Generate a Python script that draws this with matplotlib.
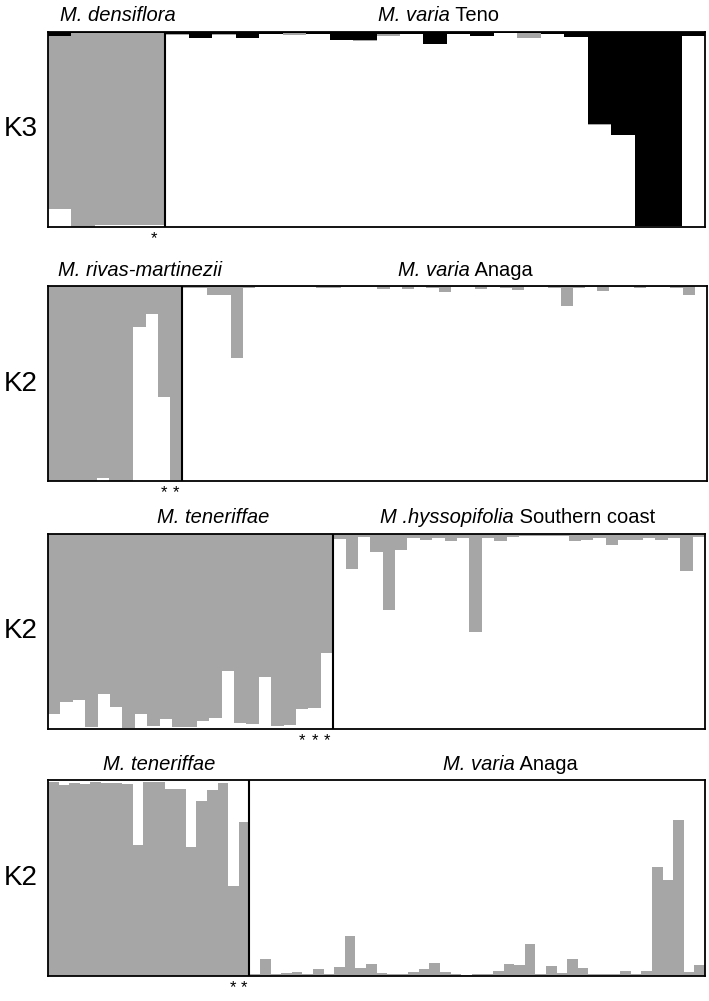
import numpy as np
import matplotlib
matplotlib.use("Agg")
import matplotlib.pyplot as plt
from matplotlib import transforms

plt.rcParams['font.family'] = ['Liberation Sans', 'DejaVu Sans']

GREY = '#a6a6a6'

# ---- panel 1 : K3, M. densiflora (5) + M. varia Teno (23)
# stack from bottom: white, grey, black
p1_n = [5, 23]
p1_grey = [0.89, 0.995, 0.985, 0.985, 0.987,
           0.005, 0, 0.005, 0, 0, 0.01, 0, 0, 0.005, 0.01, 0, 0, 0, 0, 0,
           0.025, 0, 0, 0.005, 0, 0, 0, 0]
p1_black = [0.02, 0.005, 0.005, 0.005, 0.005,
            0.01, 0.03, 0.01, 0.03, 0.01, 0.005, 0.01, 0.04, 0.04, 0.01, 0.01, 0.06,
            0.01, 0.02, 0.005, 0.005, 0.01, 0.025, 0.47, 0.53, 0.995, 0.995, 0.02]

# ---- panel 2 : K2, M. rivas-martinezii (11) + M. varia Anaga (43); grey share (top)
p2_n = [11, 43]
p2_grey = [1, 1, 1, 1, 0.983, 1, 1, 0.21, 0.145, 0.57, 0.995,
           0.01, 0.01, 0.046, 0.046, 0.37, 0.01, 0.005, 0.005, 0.005, 0.005, 0.005,
           0.01, 0.01, 0.005, 0.005, 0.005, 0.015, 0.005, 0.015, 0.005, 0.01, 0.03,
           0.005, 0.005, 0.015, 0.005, 0.01, 0.02, 0.005, 0.005, 0.01, 0.1, 0.01,
           0.005, 0.025, 0.005, 0.005, 0.01, 0.005, 0.005, 0.01, 0.045, 0.0]

# ---- panel 3 : K2, M. teneriffae (23) + M. hyssopifolia Southern coast (30); grey share (top)
p3_n = [23, 30]
p3_white_g1 = [0.075, 0.139, 0.149, 0.012, 0.178, 0.113, 0.007, 0.075, 0.014, 0.051,
               0.009, 0.012, 0.039, 0.057, 0.30, 0.031, 0.027, 0.269, 0.017, 0.021,
               0.101, 0.106, 0.39]
p3_grey_g2 = [0.024, 0.18, 0.017, 0.09, 0.39, 0.08, 0.02, 0.03, 0.02, 0.035, 0.02, 0.50,
              0.02, 0.038, 0.015, 0.012, 0.01, 0.008, 0.008, 0.035, 0.03, 0.02, 0.058,
              0.03, 0.03, 0.02, 0.033, 0.02, 0.19, 0.015]
p3_grey = [1 - w for w in p3_white_g1] + p3_grey_g2

# ---- panel 4 : K2, M. teneriffae (19) + M. varia Anaga (43); grey share (bottom)
p4_n = [19, 43]
p4_grey = [0.991, 0.976, 0.986, 0.98, 0.988, 0.983, 0.983, 0.98, 0.67, 0.988, 0.988,
           0.954, 0.954, 0.66, 0.894, 0.949, 0.983, 0.458, 0.785,
           0.012, 0.087, 0.009, 0.017, 0.022, 0.009, 0.034, 0.009, 0.044, 0.206, 0.041,
           0.06, 0.015, 0.009, 0.012, 0.022, 0.036, 0.066, 0.022, 0.012, 0.007, 0.009,
           0.009, 0.024, 0.063, 0.055, 0.165, 0.012, 0.051, 0.015, 0.089, 0.039, 0.012,
           0.012, 0.012, 0.027, 0.012, 0.024, 0.554, 0.49, 0.796, 0.022, 0.058]

# labels: (italic part, plain part) for each group title
k_labels = ['K3', 'K2', 'K2', 'K2']
titles = [(('M. densiflora', ''), ('M. varia', ' Teno')),
          (('M. rivas-martinezii', ''), ('M. varia', ' Anaga')),
          (('M. teneriffae', ''), ('M .hyssopifolia', ' Southern coast')),
          (('M. teneriffae', ''), ('M. varia', ' Anaga'))]
stars = [[4], [9, 10], [20, 21, 22], [17, 18]]

W, H = 709, 1001
fig = plt.figure(figsize=(W / 100, H / 100), dpi=100)

# axes boxes in pixels: left, top, right, bottom
boxes = [(48, 32, 705, 227), (48, 286, 707, 481), (48, 534, 705, 729), (48, 780, 705, 976)]
# left edge of each title, baseline y (pixels from top)
title_pos = [((60, 21), (378, 21)), ((58, 276), (398, 276)),
             ((157, 523), (380, 523)), ((103, 770), (443, 770))]
TSIZE = 14.5

axes = []
for (l, t, r, b) in boxes:
    ax = fig.add_axes([l / W, 1 - b / H, (r - l) / W, (b - t) / H])
    axes.append(ax)

def finish(ax, n_groups, k):
    n = sum(n_groups)
    ax.set_xlim(0, n)
    ax.set_ylim(0, 1)
    ax.set_xticks([])
    ax.set_yticks([])
    for s in ax.spines.values():
        s.set_linewidth(1.3)
        s.set_color('black')
        s.set_zorder(5)
    ax.axvline(n_groups[0], color='black', lw=1.5, zorder=6)
    trans = transforms.blended_transform_factory(ax.transData, ax.transAxes)
    for i in stars[k]:
        ax.text(i + 0.5, -0.06, '*', transform=trans, ha='center', va='center',
                fontsize=12)

# panel 1
ax = axes[0]
black = np.array(p1_black)
grey = np.array(p1_grey)
white = 1 - grey - black
x = np.arange(len(black))
ax.bar(x, white, width=1, align='edge', color='white', linewidth=0)
ax.bar(x, grey, bottom=white, width=1, align='edge', color=GREY, linewidth=0)
ax.bar(x, black, bottom=white + grey, width=1, align='edge', color='black', linewidth=0)
finish(ax, p1_n, 0)

# panel 2: white bottom, grey top
ax = axes[1]
g = np.array(p2_grey)
x = np.arange(len(g))
ax.bar(x, g, bottom=1 - g, width=1, align='edge', color=GREY, linewidth=0)
finish(ax, p2_n, 1)

# panel 3: white bottom, grey top
ax = axes[2]
g = np.array(p3_grey)
x = np.arange(len(g))
ax.bar(x, g, bottom=1 - g, width=1, align='edge', color=GREY, linewidth=0)
finish(ax, p3_n, 2)

# panel 4: grey bottom, white top
ax = axes[3]
g = np.array(p4_grey)
x = np.arange(len(g))
ax.bar(x, g, width=1, align='edge', color=GREY, linewidth=0)
finish(ax, p4_n, 3)

renderer = fig.canvas.get_renderer()
for k, (l, t, r, b) in enumerate(boxes):
    fig.text(21 / W, 1 - ((t + b) / 2) / H, k_labels[k], ha='center', va='center',
             fontsize=20)
    for (px, py), (it, plain) in zip(title_pos[k], titles[k]):
        t1 = fig.text(px / W, 1 - py / H, it, ha='left', va='baseline',
                      fontsize=TSIZE, style='italic')
        if plain:
            x1 = t1.get_window_extent(renderer).x1
            fig.text(x1 / W, 1 - py / H, plain, ha='left', va='baseline',
                     fontsize=TSIZE)

fig.savefig('out.png', dpi=100)
